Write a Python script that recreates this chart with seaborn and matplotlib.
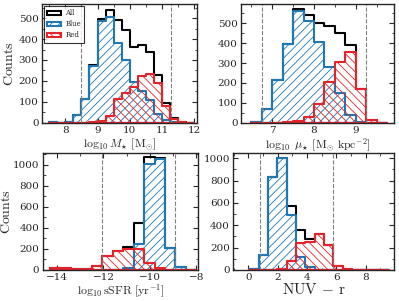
import numpy as np
import pandas as pd
import matplotlib
matplotlib.use('Agg')
import matplotlib.pyplot as plt
import seaborn as sns
from matplotlib.ticker import MultipleLocator, AutoMinorLocator

BLUE = '#1f77b4'
RED = '#e3242b'

# stellar mass panel, bins of 0.25 dex
mass_edges = np.arange(7.5, 12.01, 0.25)
mass_all = [3, 0, 5, 37, 113, 275, 495, 537, 491, 443, 364, 372, 340, 228, 93, 23, 5, 0]
mass_blue = [3, 0, 5, 37, 113, 273, 485, 505, 380, 300, 195, 150, 109, 40, 14, 3, 0, 0]
mass_red = [0, 0, 0, 0, 0, 2, 10, 32, 111, 143, 169, 222, 231, 188, 79, 20, 5, 0]
mass_cuts = [8.5, 11.27]

# surface density panel
mu_edges = np.arange(6.5, 9.76, 0.25)
mu_all = [2, 69, 215, 396, 570, 543, 499, 488, 452, 393, 171, 15, 0]
mu_blue = [2, 69, 215, 394, 562, 513, 404, 282, 148, 39, 3, 0, 0]
mu_red = [0, 0, 0, 2, 8, 30, 95, 206, 304, 354, 168, 15, 0]
mu_cuts = [6.76, 9.26]

# sSFR panel
ssfr_edges = np.linspace(-14.3, -8.0, 15)
ssfr_all = [22, 22, 5, 5, 38, 133, 184, 223, 451, 1073, 1071, 205, 25, 3]
ssfr_blue = [0, 0, 0, 0, 0, 0, 0, 20, 248, 1010, 1055, 205, 25, 3]
ssfr_red = [22, 22, 5, 5, 38, 133, 184, 203, 203, 63, 16, 0, 0, 0]
ssfr_cuts = [-12.05, -8.9]

# NUV - r panel
nuv_edges = np.linspace(0.07, 9.61, 16)
nuv_all = [12, 130, 834, 1005, 572, 357, 279, 325, 222, 38, 12, 3, 0, 0, 0]
nuv_blue = [12, 130, 834, 1000, 488, 112, 24, 0, 0, 0, 0, 0, 0, 0, 0]
nuv_red = [0, 0, 0, 5, 84, 245, 255, 325, 222, 38, 12, 3, 0, 0, 0]
nuv_cuts = [0.78, 5.78]


def one_hist(ax, edges, counts, color, hatch, label):
    centers = 0.5 * (edges[:-1] + edges[1:])
    df = pd.DataFrame({'value': centers, 'count': np.asarray(counts, dtype=float)})
    sns.histplot(data=df, x='value', weights='count', bins=list(edges), element='step',
                 fill=True, color=color, facecolor='none', edgecolor=color, hatch=hatch,
                 linewidth=1.5, label=label, ax=ax)


def draw_panel(ax, edges, all_counts, blue_counts, red_counts, cuts):
    one_hist(ax, edges, all_counts, 'black', None, 'All')
    one_hist(ax, edges, blue_counts, BLUE, '////', 'Blue')
    one_hist(ax, edges, red_counts, RED, '\\\\\\\\', 'Red')
    for c in cuts:
        ax.axvline(c, color='grey', linestyle='--', linewidth=0.8)
    ax.set_ylabel('')
    ax.tick_params(which='both', direction='in', top=True, right=True, labelsize=7.5)
    ax.tick_params(which='major', length=3.5, width=0.8, pad=2.5)
    ax.tick_params(which='minor', length=1.8, width=0.6)
    ax.xaxis.set_minor_locator(AutoMinorLocator(2))
    ax.yaxis.set_minor_locator(AutoMinorLocator(2))
    for s in ax.spines.values():
        s.set_linewidth(1.0)


sns.set_style('ticks')
plt.rcParams['font.family'] = ['DejaVu Serif']
plt.rcParams['mathtext.fontset'] = 'cm'
plt.rcParams['hatch.linewidth'] = 0.6

fig = plt.figure(figsize=(3.99, 3.01), dpi=100)
ax1 = fig.add_axes([0.1053, 0.5924, 0.3885, 0.3944])
ax2 = fig.add_axes([0.604, 0.5924, 0.3835, 0.3944])
ax3 = fig.add_axes([0.107, 0.103, 0.389, 0.3897])
ax4 = fig.add_axes([0.5847, 0.103, 0.4035, 0.3897])

draw_panel(ax1, mass_edges, mass_all, mass_blue, mass_red, mass_cuts)
ax1.set_xlim(7.28, 12.08)
ax1.set_ylim(0, 568)
ax1.xaxis.set_major_locator(MultipleLocator(1))
ax1.yaxis.set_major_locator(MultipleLocator(100))
ax1.set_xlabel(r'$\log_{10} M_{\star}\ [\mathrm{M}_{\odot}]$', fontsize=8.5, labelpad=1)
ax1.set_ylabel(r'$\mathrm{Counts}$', fontsize=10)
ax1.yaxis.set_label_coords(-0.17, 0.5)
leg = ax1.legend(loc='upper left', fontsize=5, frameon=True, fancybox=False,
                 edgecolor='black', handlelength=2.0, handleheight=0.6,
                 borderpad=0.45, labelspacing=0.45, borderaxespad=0.3, handletextpad=0.6)
leg.get_frame().set_linewidth(0.8)

draw_panel(ax2, mu_edges, mu_all, mu_blue, mu_red, mu_cuts)
ax2.set_xlim(6.25, 9.92)
ax2.set_ylim(0, 597)
ax2.xaxis.set_major_locator(MultipleLocator(1))
ax2.yaxis.set_major_locator(MultipleLocator(100))
ax2.set_xlabel(r'$\log_{10}\ \mu_{\star}\ [\mathrm{M}_{\odot}\ \mathrm{kpc}^{-2}]$', fontsize=8.5, labelpad=1)

draw_panel(ax3, ssfr_edges, ssfr_all, ssfr_blue, ssfr_red, ssfr_cuts)
ax3.set_xlim(-14.62, -7.93)
ax3.set_ylim(0, 1117)
ax3.xaxis.set_major_locator(MultipleLocator(2))
ax3.yaxis.set_major_locator(MultipleLocator(200))
ax3.set_xlabel(r'$\log_{10}\mathrm{sSFR}\ [\mathrm{yr}^{-1}]$', fontsize=8.5, labelpad=0)
ax3.set_ylabel(r'$\mathrm{Counts}$', fontsize=10)
ax3.yaxis.set_label_coords(-0.19, 0.5)

draw_panel(ax4, nuv_edges, nuv_all, nuv_blue, nuv_red, nuv_cuts)
ax4.set_xlim(-1.02, 9.95)
ax4.set_ylim(0, 1050)
ax4.xaxis.set_major_locator(MultipleLocator(2))
ax4.yaxis.set_major_locator(MultipleLocator(200))
ax4.set_xlabel(r'$\mathrm{NUV}\,-\,\mathrm{r}$', fontsize=11, labelpad=0)

fig.savefig('out.png', dpi=100)
plt.close()
